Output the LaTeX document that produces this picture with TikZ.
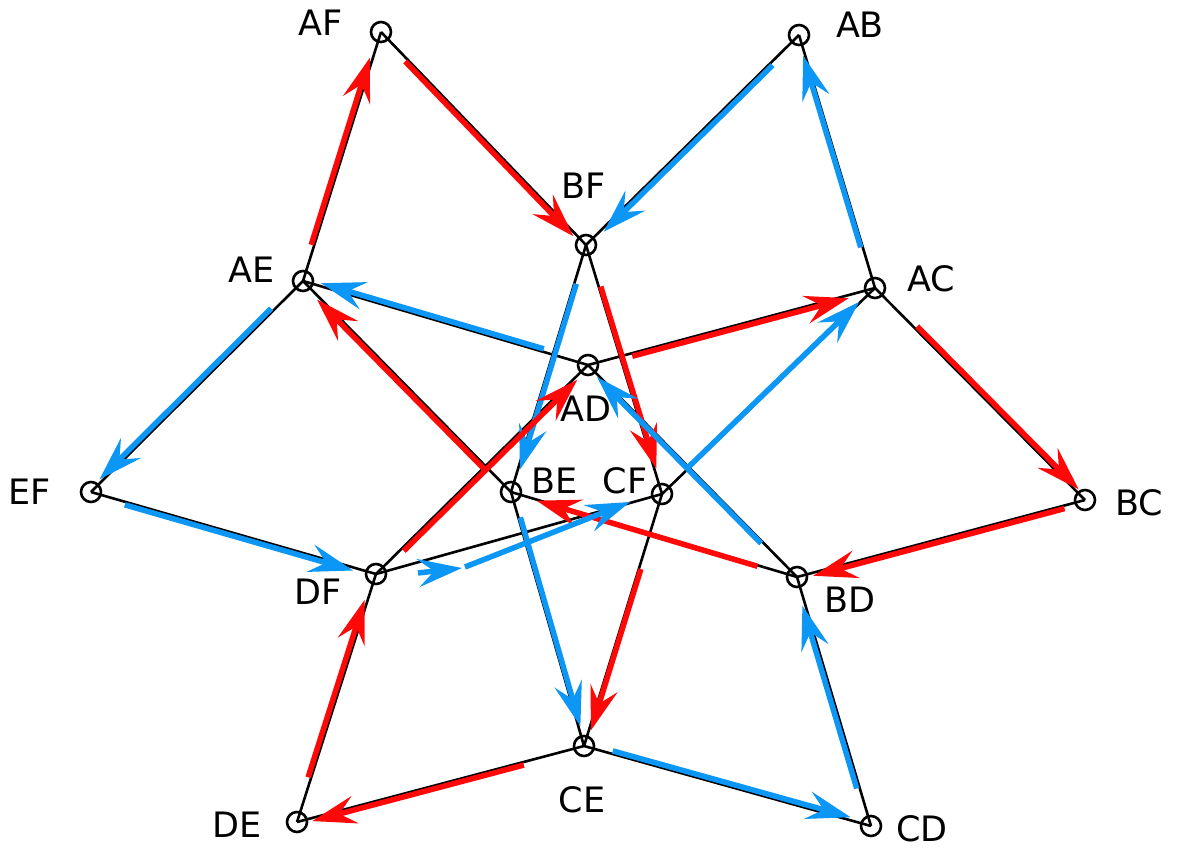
\documentclass[tikz,border=0pt]{standalone}
\usepackage{fontspec}
\setmainfont{DejaVu Sans}
\usetikzlibrary{arrows.meta,calc}
\definecolor{arrred}{RGB}{255,8,8}
\definecolor{arrblue}{RGB}{12,150,245}
\pgfdeclarelayer{bg}
\pgfsetlayers{bg,main}
% #1 style, #2 from, #3 to, #4 start gap, #5 end gap, #6 side offset
\newcommand\carrow[6]{\draw[#1] ($(#2.center)!#4pt!(#3.center)!#6pt!90:(#3.center)$) -- ($(#3.center)!#5pt!(#2.center)!#6pt!-90:(#2.center)$);}
\begin{document}
\begin{tikzpicture}[x=1pt,y=-1pt,
  vtx/.style={circle,draw,line width=2.6pt,minimum size=20pt,inner sep=0pt},
  lbl/.style={inner sep=0pt,font=\fontsize{35}{42}\selectfont},
  edge/.style={line width=2.6pt,black},
  tipstyle/.style={-{Stealth[length=44pt,width=28pt,inset=16pt]}},
  redarr/.style={draw=arrred,line width=5.5pt,tipstyle},
  bluearr/.style={draw=arrblue,line width=5.5pt,tipstyle}]
\useasboundingbox (0,0) rectangle (1177,851);
% vertices
\node[vtx] (AF) at (381,32) {};
\node[vtx] (AB) at (799,35) {};
\node[vtx] (BF) at (586,245) {};
\node[vtx] (AE) at (303,281) {};
\node[vtx] (AC) at (875,288) {};
\node[vtx] (AD) at (588,365) {};
\node[vtx] (EF) at (91,492) {};
\node[vtx] (BE) at (511,492) {};
\node[vtx] (CF) at (662,494) {};
\node[vtx] (BC) at (1085,500) {};
\node[vtx] (DF) at (376,574) {};
\node[vtx] (BD) at (797,577) {};
\node[vtx] (CE) at (584,746) {};
\node[vtx] (DE) at (297,822) {};
\node[vtx] (CD) at (871,826) {};
% labels
\node[lbl] (lAF) at (321,23) {AF};
\node[lbl] (lAB) at (860,25) {AB};
\node[lbl] (lBF) at (584,186) {BF};
\node[lbl] (lAE) at (252,270) {AE};
\node[lbl] (lAC) at (931,279) {AC};
\node[lbl] (lAD) at (586,409) {AD};
\node[lbl] (lEF) at (30,492) {EF};
\node[lbl] (lBE) at (555,481) {BE};
\node[lbl] (lCF) at (625,481) {CF};
\node[lbl] (lBC) at (1139,503) {BC};
\node[lbl] (lDF) at (318,592) {DF};
\node[lbl] (lBD) at (850,600) {BD};
\node[lbl] (lCE) at (582,800) {CE};
\node[lbl] (lDE) at (237,825) {DE};
\node[lbl] (lCD) at (922,829) {CD};
\begin{pgfonlayer}{bg}
\fill[white] (0,0) rectangle (1177,851);
% black edges
\foreach \a/\b in {AF/AE,AF/BF,AB/BF,AB/AC,AE/EF,AE/BE,AE/AD,AC/AD,AC/BC,AC/CF,
  BF/BE,BF/CF,AD/DF,AD/BD,BE/BD,BE/CE,CF/CE,CF/DF,BC/BD,EF/DF,DF/DE,CE/DE,CE/CD,CD/BD}
  \draw[edge] (\a.center) -- (\b.center);
% coloured arrows
\carrow{redarr}{AE}{AF}{37}{28}{3}
\carrow{redarr}{AF}{BF}{38}{15}{-3}
\carrow{bluearr}{AB}{BF}{40}{22}{3}
\carrow{bluearr}{AC}{AB}{43}{21}{2}
\carrow{bluearr}{AE}{EF}{42}{15}{-3}
\carrow{bluearr}{EF}{DF}{36}{23}{-3}
\carrow{redarr}{DE}{DF}{46}{28}{3}
\carrow{redarr}{CE}{DE}{63}{15}{3}
\carrow{bluearr}{CE}{CD}{29}{22}{3}
\carrow{bluearr}{CD}{BD}{40}{29}{3}
\carrow{redarr}{BC}{BD}{22}{16}{3}
\carrow{redarr}{AC}{BC}{57}{12}{3}
\carrow{bluearr}{BF}{BE}{40}{24}{2}
\carrow{redarr}{BF}{CF}{44}{26}{2}
\carrow{bluearr}{AD}{AE}{47}{18}{-3}
\carrow{redarr}{BE}{AE}{36}{23}{3}
\carrow{redarr}{AD}{AC}{45}{28}{-3}
\carrow{redarr}{DF}{AD}{36}{18}{-3}
\carrow{bluearr}{BD}{AD}{49}{15}{2}
\carrow{redarr}{BD}{BE}{41}{27}{1}
\carrow{bluearr}{BE}{CE}{27}{20}{2}
\carrow{redarr}{CF}{CE}{78}{17}{2}
\carrow{bluearr}{CF}{AC}{35}{21}{1}
\draw[bluearr] ($(DF.center)+(42,-1)$) -- ($(DF.center)+(86,-6)$);
\draw[bluearr] ($(DF.center)+(89,-7)$) -- ($(CF.center)+(-32,8)$);
\end{pgfonlayer}
\end{tikzpicture}
\end{document}
